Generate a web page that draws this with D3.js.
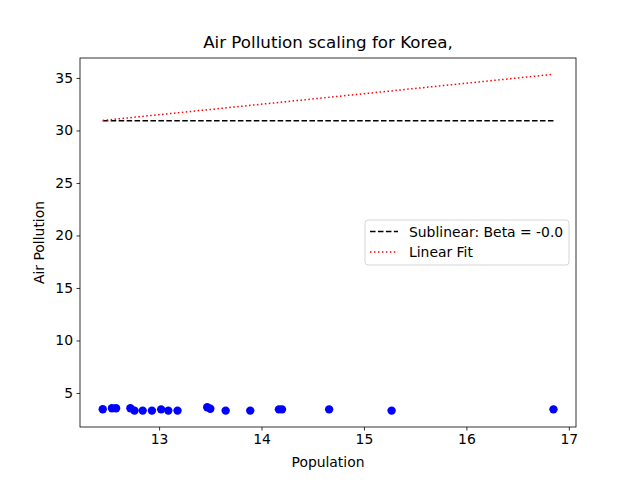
<!DOCTYPE html>
<html>
<head>
<meta charset="utf-8">
<script src="https://cdn.jsdelivr.net/npm/d3@7"></script>
<style>
  body { margin: 0; background: #fff; }
  svg { font-family: "DejaVu Sans", sans-serif; }
</style>
</head>
<body>
<svg id="chart" width="640" height="480"></svg>
<script>
// log population vs air pollution
var population = [12.45, 12.54, 12.58, 12.72, 12.76, 12.84, 12.93, 13.02, 13.09, 13.18,
                  13.47, 13.50, 13.65, 13.89, 14.17, 14.20, 14.66, 15.27, 16.85];
var pollution = [3.45, 3.54, 3.54, 3.54, 3.32, 3.32, 3.32, 3.44, 3.32, 3.32,
                 3.64, 3.50, 3.32, 3.32, 3.44, 3.44, 3.44, 3.32, 3.44];

var fitX = [12.45, 16.85];
var sublinearY = [30.92, 30.92];
var linearY = [30.95, 35.35];

var xTicks = [13, 14, 15, 16, 17];
var yTicks = [5, 10, 15, 20, 25, 30, 35];

var svg = d3.select("#chart");

var margin = {left: 80, right: 64, top: 58, bottom: 53};
var width = 640 - margin.left - margin.right;
var height = 480 - margin.top - margin.bottom;

var x = d3.scaleLinear().domain([12.228, 17.07]).range([0, width]);
var y = d3.scaleLinear().domain([1.76, 36.9]).range([height, 0]);

var g = svg.append("g")
    .attr("transform", "translate(" + margin.left + "," + margin.top + ")");

// lines
var line = d3.line()
    .x(function(d) { return x(d[0]); })
    .y(function(d) { return y(d[1]); });

g.append("path")
    .attr("d", line(d3.zip(fitX, sublinearY)))
    .attr("fill", "none")
    .attr("stroke", "black")
    .attr("stroke-width", 1.5)
    .attr("stroke-dasharray", "5.55 2.4");

g.append("path")
    .attr("d", line(d3.zip(fitX, linearY)))
    .attr("fill", "none")
    .attr("stroke", "red")
    .attr("stroke-width", 1.5)
    .attr("stroke-dasharray", "1.5 2.475");

// points
g.selectAll("circle")
    .data(d3.zip(population, pollution))
    .enter().append("circle")
    .attr("cx", function(d) { return x(d[0]); })
    .attr("cy", function(d) { return y(d[1]); })
    .attr("r", 4.2)
    .attr("fill", "blue");

// axes
var xAxis = g.append("g")
    .attr("transform", "translate(0," + height + ")")
    .call(d3.axisBottom(x).tickValues(xTicks).tickSize(3.5).tickPadding(3.5).tickFormat(d3.format("d")));
var yAxis = g.append("g")
    .call(d3.axisLeft(y).tickValues(yTicks).tickSize(3.5).tickPadding(3.5).tickFormat(d3.format("d")));

[xAxis, yAxis].forEach(function(a) {
    a.select(".domain").remove();
    a.selectAll("line").attr("stroke", "black").attr("stroke-width", 0.8);
    a.selectAll("text").attr("font-size", "13.9px").attr("fill", "black")
        .attr("font-family", "DejaVu Sans");
});

// frame
g.append("rect")
    .attr("width", width)
    .attr("height", height)
    .attr("fill", "none")
    .attr("stroke", "black")
    .attr("stroke-width", 0.8);

// labels
svg.append("text")
    .attr("x", margin.left + width / 2)
    .attr("y", 48)
    .attr("text-anchor", "middle")
    .attr("font-size", "16.7px")
    .text("Air Pollution scaling for Korea,");

svg.append("text")
    .attr("x", margin.left + width / 2)
    .attr("y", 467)
    .attr("text-anchor", "middle")
    .attr("font-size", "13.9px")
    .text("Population");

svg.append("text")
    .attr("transform", "translate(44," + (margin.top + height / 2) + ") rotate(-90)")
    .attr("text-anchor", "middle")
    .attr("font-size", "13.9px")
    .text("Air Pollution");

// legend
var legend = svg.append("g").attr("transform", "translate(365,220)");
legend.append("rect")
    .attr("width", 204)
    .attr("height", 45)
    .attr("rx", 3)
    .attr("fill", "white")
    .attr("fill-opacity", 0.8)
    .attr("stroke", "#cccccc")
    .attr("stroke-width", 0.8);

var legendItems = [
    {label: "Sublinear: Beta = -0.0", color: "black", dash: "5.55 2.4"},
    {label: "Linear Fit", color: "red", dash: "1.5 2.475"}
];

legendItems.forEach(function(item, i) {
    var yy = 11.5 + i * 20.5;
    legend.append("line")
        .attr("x1", 5).attr("x2", 33)
        .attr("y1", yy).attr("y2", yy)
        .attr("stroke", item.color)
        .attr("stroke-width", 1.5)
        .attr("stroke-dasharray", item.dash);
    legend.append("text")
        .attr("x", 44)
        .attr("y", yy + 5)
        .attr("font-size", "13.9px")
        .text(item.label);
});
</script>
</body>
</html>
